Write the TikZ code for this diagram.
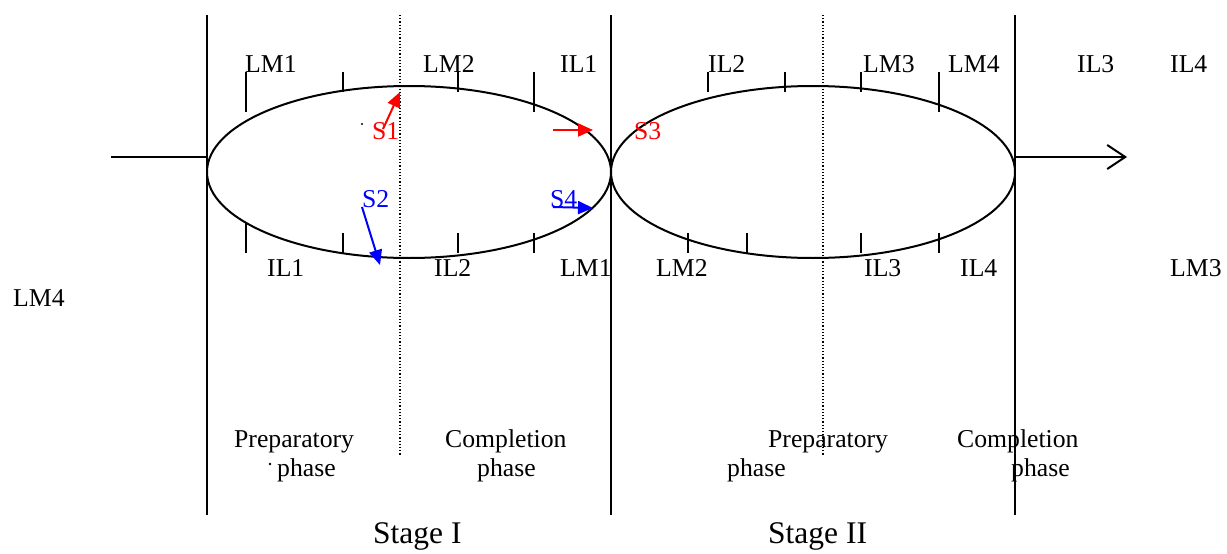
\documentclass[tikz,border=0pt]{standalone}
\usepackage{fontspec}
\setmainfont{Liberation Serif}
\usetikzlibrary{shapes.geometric,arrows.meta}
\begin{document}
\begin{tikzpicture}[x=1pt,y=-1pt,
  lbl/.style={inner sep=0pt,anchor=base west,font=\fontsize{25.7}{30}\selectfont},
  stg/.style={inner sep=0pt,anchor=base west,font=\fontsize{31.5}{36}\selectfont},
  divider/.style={line width=1.5pt},
  dotline/.style={line width=1.2pt,dotted},
  tickmark/.style={line width=1.5pt},
  loopshape/.style={draw,ellipse,line width=2pt,inner sep=0pt,minimum width=404pt,minimum height=172pt},
  redarr/.style={draw=red,line width=2pt,-{Triangle[length=15pt,width=13pt]}},
  bluearr/.style={draw=blue,line width=2pt,-{Triangle[length=15pt,width=13pt]}}]
\useasboundingbox (0,0) rectangle (1227,554);
% dividers
\draw[divider] (207,15) -- (207,515);
\draw[divider] (611,15) -- (611,515);
\draw[divider] (1015,15) -- (1015,515);
\draw[dotline] (400,15) -- (400,456);
\draw[dotline] (823,15) -- (823,456);
% loops
\node[loopshape] (E1) at (409,172) {};
\node[loopshape] (E2) at (813,172) {};
% input / output
\coordinate (inA) at (111,157);
\coordinate (inB) at (207,157);
\coordinate (outA) at (1015,157);
\coordinate (outB) at (1127,157);
\draw[line width=2pt] (inA) -- (inB);
\draw[line width=2pt,-{Straight Barb[length=18pt,width=24pt,line width=2pt]}] (outA) -- (outB);
% ticks upper
\foreach \x/\t in {246/112,343/92,458/92,534/112,708/92,785/92,861/92,939/112}
  \draw[tickmark] (\x,72) -- (\x,\t);
% ticks lower
\foreach \x/\t in {246/223,343/233,458/233,534/233,688/233,747/233,861/233,939/233}
  \draw[tickmark] (\x,\t) -- (\x,253);
% top labels
\node[lbl] (t1) at (245,72) {LM1};
\node[lbl] (t2) at (423,72) {LM2};
\node[lbl] (t3) at (560,72) {IL1};
\node[lbl] (t4) at (708,72) {IL2};
\node[lbl] (t5) at (863,72) {LM3};
\node[lbl] (t6) at (948,72) {LM4};
\node[lbl] (t7) at (1077,72) {IL3};
\node[lbl] (t8) at (1170,72) {IL4};
% bottom labels
\node[lbl] (b1) at (267,276) {IL1};
\node[lbl] (b2) at (434,276) {IL2};
\node[lbl] (b3) at (560,276) {LM1};
\node[lbl] (b4) at (656,276) {LM2};
\node[lbl] (b5) at (864,276) {IL3};
\node[lbl] (b6) at (960,276) {IL4};
\node[lbl] (b7) at (1170,276) {LM3};
\node[lbl] (b8) at (13,306) {LM4};
% S labels
\node[lbl,text=red] (s1) at (372,139) {S1};
\node[lbl,text=red] (s3) at (634,139) {S3};
\node[lbl,text=blue] (s2) at (362,207) {S2};
\node[lbl,text=blue] (s4) at (550,207) {S4};
\fill (362,124) circle (1.1pt);
% S arrows
\coordinate (a1) at (383,129);
\coordinate (a1t) at (400,92);
\draw[redarr] (a1) -- (a1t);
\coordinate (a3) at (553,130);
\coordinate (a3t) at (593,130);
\draw[redarr] (a3) -- (a3t);
\coordinate (a2) at (362,207);
\coordinate (a2t) at (380,265);
\draw[bluearr] (a2) -- (a2t);
\coordinate (a4) at (553,207);
\coordinate (a4t) at (593,208);
\draw[bluearr] (a4) -- (a4t);
% phases
\node[lbl] (p1) at (234,447) {Preparatory};
\node[lbl] (p1b) at (277,476) {phase};
\fill (270,464) circle (1.3pt);
\node[lbl] (c1) at (445,447) {Completion};
\node[lbl] (c1b) at (477,476) {phase};
\node[lbl] (p2) at (768,447) {Preparatory};
\node[lbl] (p2b) at (727,476) {phase};
\node[lbl] (c2) at (957,447) {Completion};
\node[lbl] (c2b) at (1011,476) {phase};
% stages
\node[stg] (st1) at (373,543) {Stage I};
\node[stg] (st2) at (768,543) {Stage II};
\end{tikzpicture}
\end{document}
